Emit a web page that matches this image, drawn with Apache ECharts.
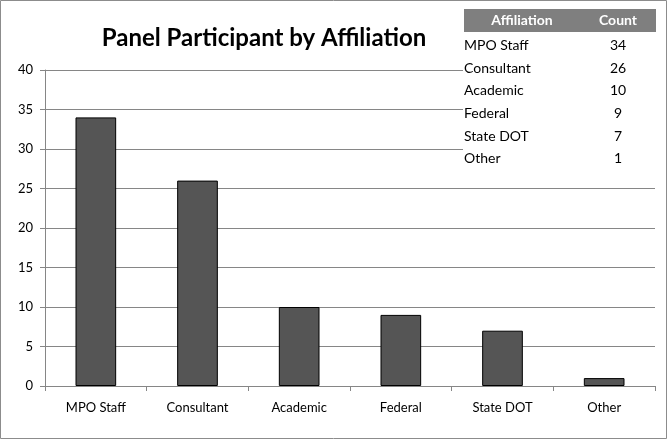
<!DOCTYPE html>
<html>
<head>
<meta charset="utf-8">
<script src="https://cdn.jsdelivr.net/npm/echarts@6/dist/echarts.min.js"></script>
<style>
  html, body { margin: 0; padding: 0; background: #fff; }
  #chart { width: 668px; height: 440px; }
</style>
</head>
<body>
<div id="chart"></div>
<script>
// Chart data
const categories = ['MPO Staff', 'Consultant', 'Academic', 'Federal', 'State DOT', 'Other'];
const counts = [34, 26, 10, 9, 7, 1];
const tableHeaders = ['Affiliation', 'Count'];

const font = 'Lato, "Open Sans", sans-serif';
const chart = echarts.init(document.getElementById('chart'));

// table overlay in the upper right
const rowY = [45, 68, 90, 113, 136, 158];
const tableGraphics = [
    { type: 'rect', shape: { x: 463, y: 6, width: 194, height: 170 }, style: { fill: '#fff' }, z: 10 },
    { type: 'rect', shape: { x: 464, y: 9, width: 192, height: 23 }, style: { fill: '#7f7f7f' }, z: 11 },
    { type: 'text', x: 522, y: 20, z: 12, style: { text: tableHeaders[0], fill: '#fff', font: 'bold 14px ' + font, align: 'center', verticalAlign: 'middle' } },
    { type: 'text', x: 618, y: 20, z: 12, style: { text: tableHeaders[1], fill: '#fff', font: 'bold 14px ' + font, align: 'center', verticalAlign: 'middle' } }
];
categories.forEach((c, i) => {
    tableGraphics.push({ type: 'text', x: 464, y: rowY[i], z: 12, style: { text: c, fill: '#000', font: '14px ' + font, verticalAlign: 'middle' } });
    tableGraphics.push({ type: 'text', x: 618, y: rowY[i], z: 12, style: { text: String(counts[i]), fill: '#000', font: '14px ' + font, align: 'center', verticalAlign: 'middle' } });
});

chart.setOption({
    animation: false,
    backgroundColor: '#fff',
    title: {
        text: 'Panel Participant by Affiliation',
        left: 259, top: 21, textAlign: 'center',
        textStyle: { fontFamily: font, fontSize: 24, fontWeight: 'bold', color: '#000' }
    },
    grid: { left: 45, right: 13, top: 70, bottom: 54 },
    graphic: [
        { type: 'rect', shape: { x: 0.5, y: 0.5, width: 666, height: 438 }, style: { fill: null, stroke: '#8c8c8c', lineWidth: 1 }, z: 20 }
    ].concat(tableGraphics),
    xAxis: {
        type: 'category',
        data: categories,
        axisLine: { lineStyle: { color: '#868686' } },
        axisTick: { show: true, length: 5, lineStyle: { color: '#868686' } },
        axisLabel: { color: '#000', fontFamily: font, fontSize: 13, margin: 15 }
    },
    yAxis: {
        type: 'value',
        min: 0, max: 40, interval: 5,
        axisLine: { show: true, lineStyle: { color: '#868686' } },
        axisTick: { show: true, length: 5, lineStyle: { color: '#868686' } },
        axisLabel: { color: '#000', fontFamily: font, fontSize: 13, margin: 12 },
        splitLine: { lineStyle: { color: '#868686' } }
    },
    series: [{
        type: 'bar',
        data: counts,
        barWidth: '40%',
        itemStyle: { color: '#555555', borderColor: '#000', borderWidth: 1 }
    }]
});
</script>
</body>
</html>
